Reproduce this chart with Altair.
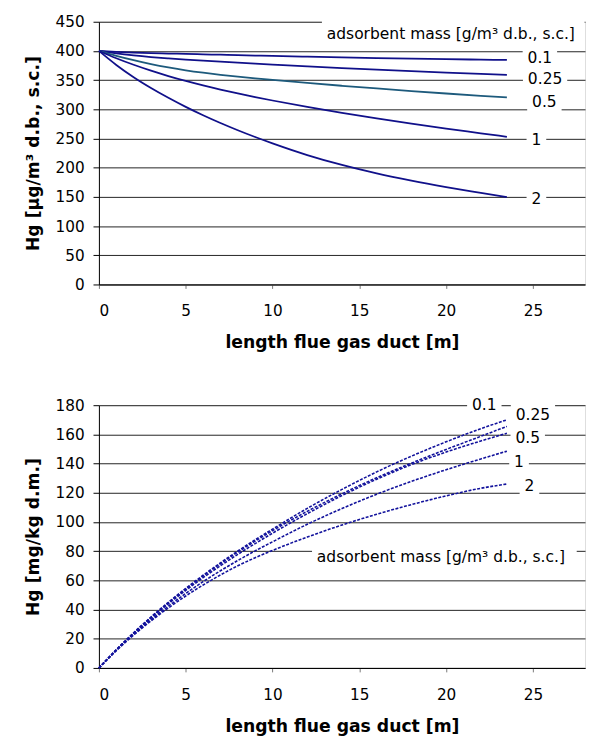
import altair as alt
import pandas as pd

# ---------------- data ----------------
dist = [0, 1, 2, 3, 4, 5, 6, 7, 8, 9, 10, 12, 14, 16, 18, 20, 22, 23.5]
masses = ["0.1", "0.25", "0.5", "1", "2"]

# gas-phase Hg concentration [ug/m3] (top panel)
conc_01 = [400, 398.3, 397.1, 396.2, 395.5, 394.9, 394.2, 393.5, 392.8, 392.1, 391.4, 390.1, 388.9, 387.8, 386.8, 385.9, 385.1, 384.5]
conc_025 = [400, 395.8, 392.4, 389.6, 387.3, 385.3, 383.45, 381.7, 380, 378.35, 376.75, 373.65, 370.65, 367.85, 365.25, 362.85, 360.65, 359.15]
conc_05 = [400, 391.5, 384.1, 377.6, 371.9, 366.9, 362.7, 359.1, 355.9, 353, 350.3, 345.1, 340.3, 335.7, 331.3, 327.1, 323.1, 320.3]
conc_1 = [400, 387.5, 376.3, 366.2, 357, 348.6, 340.9, 333.8, 327.2, 321, 315.1, 304.1, 293.9, 284.3, 275.3, 266.9, 259, 253]
conc_2 = [400, 376, 355, 336.5, 319.7, 304.2, 289.9, 276.6, 264.2, 252.6, 241.7, 221.7, 204.7, 190.3, 177.9, 166.9, 156.9, 149.5]

# Hg loading on adsorbent [mg/kg] (bottom panel)
load_01 = [0, 12.5, 24.1, 34.9, 45, 54.5, 63.5, 72, 80.1, 87.8, 95.1, 109.3, 122.3, 134.3, 145.1, 154.9, 163.9, 170]
load_025 = [0, 12.4, 23.9, 34.6, 44.6, 54, 62.9, 71.3, 79.3, 86.9, 94.1, 107.3, 119.3, 130.3, 140.3, 149.7, 158.7, 165.5]
load_05 = [0, 12.3, 23.6, 34.1, 43.9, 53.1, 61.8, 70, 77.8, 85.2, 92.3, 105.7, 118.1, 129.3, 139.3, 147.9, 155.5, 160.8]
load_1 = [0, 12, 23, 33, 42.3, 51, 59.1, 66.6, 73.6, 80.2, 86.4, 98.4, 109.2, 119, 127.8, 135.8, 143.2, 148.5]
load_2 = [0, 11.8, 22.5, 32.2, 41.1, 49.3, 56.8, 63.7, 70, 75.5, 80.5, 89.7, 97.9, 105.3, 111.9, 117.9, 123.1, 126]

# series labels (data-label anchor positions)
top_label_x = [25.4, 25.7, 25.66, 25.2, 25.2]
top_label_y = [387, 351, 312, 248, 146]
bot_label_x = [22.2, 25.0, 24.7, 24.2, 24.8]
bot_label_y = [180, 172.9, 157.5, 141.3, 124.4]

legend_title = "adsorbent mass [g/m³ d.b., s.c.]"
top_legend_pos = (20.27, 428.6)
bot_legend_pos = (19.7, 76.0)

x_ticks = [0, 5, 10, 15, 20, 25]
top_y_ticks = list(range(0, 451, 50))
bot_y_ticks = list(range(0, 181, 20))

# ---------------- styling ----------------
FONT = "DejaVu Sans"
FS = 15.5
TFS = 17.5
W, H = 494, 267
line_colors = ["#10108a", "#10108a", "#1d5a7c", "#10108a", "#10108a"]
dash_color = "#12129c"


def long_frame(series):
    rows = []
    for m, vals in zip(masses, series):
        for xv, yv in zip(dist, vals):
            rows.append({"x": xv, "y": yv, "mass": m})
    return pd.DataFrame(rows)


def box_path(text, h=12):
    w = len(text.replace(".", "")) * 10 + (5 if "." in text else 0) + 10
    hw = w / 2
    return f"M{-hw},{-h}H{hw}V{h}H{-hw}Z"


def label_frame(xs, ys):
    return pd.DataFrame({"x": xs, "y": ys, "mass": masses,
                         "path": [box_path(m) for m in masses]})


def panel(series, label_xs, label_ys, leg_pos, leg_box, ydomain, yticks, ytitle, dashed):
    xscale = alt.Scale(domain=[0, 28], nice=False, zero=False)
    yscale = alt.Scale(domain=ydomain, nice=False)
    xaxis = alt.Axis(values=x_ticks, grid=False, domainColor="#000", domainWidth=1,
                     tickColor="#777", tickSize=4, labelPadding=16,
                     labelFont=FONT, labelFontSize=FS, labelColor="#000",
                     title="length flue gas duct [m]", titleFont=FONT, titleFontSize=TFS,
                     titleFontWeight="bold", titleColor="#000", titlePadding=15)
    yaxis = alt.Axis(values=yticks, grid=True, gridColor="#222", gridWidth=1, gridOpacity=1,
                     domainColor="#000", tickColor="#000", tickSize=6, labelPadding=9,
                     labelFont=FONT, labelFontSize=FS, labelColor="#000",
                     title=ytitle, titleFont=FONT, titleFontSize=TFS, titleFontWeight="bold",
                     titleColor="#000", titlePadding=13)
    X = alt.X("x:Q", scale=xscale, axis=xaxis)
    Y = alt.Y("y:Q", scale=yscale, axis=yaxis)

    df = long_frame(series)
    if dashed:
        lines = alt.Chart(df).mark_line(strokeWidth=1.6, strokeDash=[3, 1.5], interpolate="monotone",
                                        color=dash_color).encode(x=X, y=Y, detail="mass:N")
    else:
        lines = alt.Chart(df).mark_line(strokeWidth=1.8, interpolate="monotone").encode(
            x=X, y=Y, detail="mass:N",
            color=alt.Color("mass:N", scale=alt.Scale(domain=masses, range=line_colors), legend=None))

    ldf = label_frame(label_xs, label_ys)
    boxes = alt.Chart(ldf).mark_point(filled=True, color="white", opacity=1, size=4).encode(
        x=X, y=Y, shape=alt.Shape("path:N", scale=None))
    texts = alt.Chart(ldf).mark_text(font=FONT, fontSize=15.75, color="#000",
                                     align="center", baseline="middle").encode(x=X, y=Y, text="mass:N")

    lg = pd.DataFrame({"x": [leg_pos[0]], "y": [leg_pos[1]], "t": [legend_title], "path": [leg_box]})
    lbox = alt.Chart(lg).mark_point(filled=True, color="white", opacity=1, size=4).encode(
        x=X, y=Y, shape=alt.Shape("path:N", scale=None))
    ltext = alt.Chart(lg).mark_text(font=FONT, fontSize=15.75, color="#000",
                                    align="center", baseline="middle").encode(x=X, y=Y, text="t:N")

    return alt.layer(lines, boxes, texts, lbox, ltext).properties(width=W, height=H)


top = panel([conc_01, conc_025, conc_05, conc_1, conc_2], top_label_x, top_label_y,
            top_legend_pos, "M-131,-15H136V15H-131Z", [0, 450], top_y_ticks,
            "Hg [µg/m³ d.b., s.c.]", False)
bottom = panel([load_01, load_025, load_05, load_1, load_2], bot_label_x, bot_label_y,
               bot_legend_pos, "M-131,-12H138V13H-131Z", [0, 180], bot_y_ticks,
               "Hg [mg/kg d.m.]", True)

chart = alt.vconcat(top, bottom, spacing=40.7).properties(
    padding={"left": 15.4, "top": 0, "right": 0, "bottom": 0}
).configure_view(stroke="#666", strokeWidth=1).configure(background="white")

chart.save("out.html", embed_options={"renderer": "svg", "actions": False})
